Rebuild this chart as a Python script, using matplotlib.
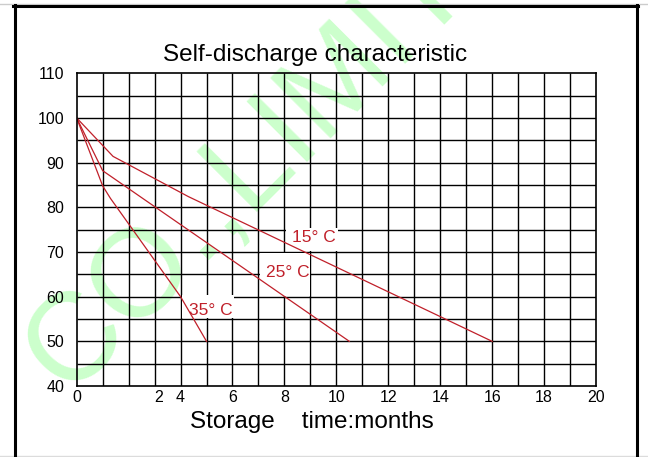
import matplotlib
matplotlib.use("Agg")
import matplotlib.pyplot as plt
from matplotlib.patches import Rectangle
from matplotlib.lines import Line2D
import numpy as np

plt.rcParams['font.family'] = ['Liberation Sans', 'DejaVu Sans']

# ---- data ----
months_15 = [0, 1.4, 4.3, 16.0]
pct_15 = [100, 91.4, 82.4, 50]
months_25 = [0, 1.0, 10.5]
pct_25 = [100, 88.2, 50]
months_35 = [0, 1.0, 1.3, 4.0, 5.0]
pct_35 = [100, 84.8, 82.0, 60, 50]

series_labels = ["15° C", "25° C", "35° C"]
label_pos = [(8.30, 72.3), (7.29, 64.3), (4.33, 55.9)]
label_boxes = [(8.06, 70.12, 2.0, 5.3), (7.05, 60.12, 1.92, 9.76), (4.06, 55.12, 2.0, 5.18)]

x_tick_pos = [0, 3.15, 4, 6, 8, 10, 12, 14, 16, 18, 20]
x_tick_labels = ["0", "2", "4", "6", "8", "10", "12", "14", "16", "18", "20"]
y_ticks = [40, 50, 60, 70, 80, 90, 100, 110]

W, H = 648, 457
fig = plt.figure(figsize=(W / 100, H / 100), dpi=100)
fig.patch.set_facecolor('white')

# watermark
fig.text(67 / W, 61 / H, "CO.,LIMITED", fontsize=90, rotation=45,
         rotation_mode='anchor', ha='left', va='baseline',
         color='#ccffcc', zorder=-5)

ax = fig.add_axes([76.7 / W, 1 - 386 / H, (596 - 76.7) / W, (386 - 73.3) / H])
ax.patch.set_alpha(0)
ax.set_xlim(0, 20)
ax.set_ylim(40, 110)

# grid
ax.vlines(np.arange(1, 20), 40, 110, colors='black', linewidth=1.0, zorder=1)
ax.hlines(np.arange(45, 110, 5), 0, 20, colors='black', linewidth=1.0, zorder=1)

# white label boxes
for (bx, by, bw, bh) in label_boxes:
    ax.add_patch(Rectangle((bx, by), bw, bh, facecolor='white', edgecolor='none', zorder=2))

red = '#c0202a'
for mx, py in [(months_15, pct_15), (months_25, pct_25), (months_35, pct_35)]:
    ax.plot(mx, py, color=red, linewidth=0.9, zorder=3)

for lab, (lx, ly) in zip(series_labels, label_pos):
    ax.text(lx, ly, lab, color=red, fontsize=12.5, ha='left', va='baseline', zorder=4)

for s in ax.spines.values():
    s.set_color('black')
    s.set_linewidth(1.2)
    s.set_zorder(5)

ax.set_xticks(x_tick_pos)
ax.set_xticklabels(x_tick_labels)
ax.set_yticks(y_ticks)
ax.tick_params(axis='both', length=0, labelsize=11.5, colors='black')
ax.tick_params(axis='x', pad=3)
ax.tick_params(axis='y', pad=9)

fig.text(315.5 / W, 1 - 61 / H, "Self-discharge characteristic", fontsize=17.5,
         ha='center', va='baseline')
fig.text(312 / W, 1 - 428 / H, "Storage    time:months", fontsize=17.5,
         ha='center', va='baseline')

# figure border
def fl(x0, y0, x1, y1, **kw):
    fig.add_artist(Line2D([x0 / W, x1 / W], [1 - y0 / H, 1 - y1 / H],
                          transform=fig.transFigure, **kw))

fl(0, 455.5, W, 455.5, color='#dcdcdc', linewidth=1.0)
fl(0, 3.5, W, 3.5, color='#cccccc', linewidth=1.0)
fl(13, 5.5, 638, 5.5, color='black', linewidth=2.2)
fl(14.5, 5, 14.5, H, color='black', linewidth=2.2)
fl(636.5, 5, 636.5, H, color='black', linewidth=2.2)

fig.savefig('out.png', dpi=100, facecolor='white')
